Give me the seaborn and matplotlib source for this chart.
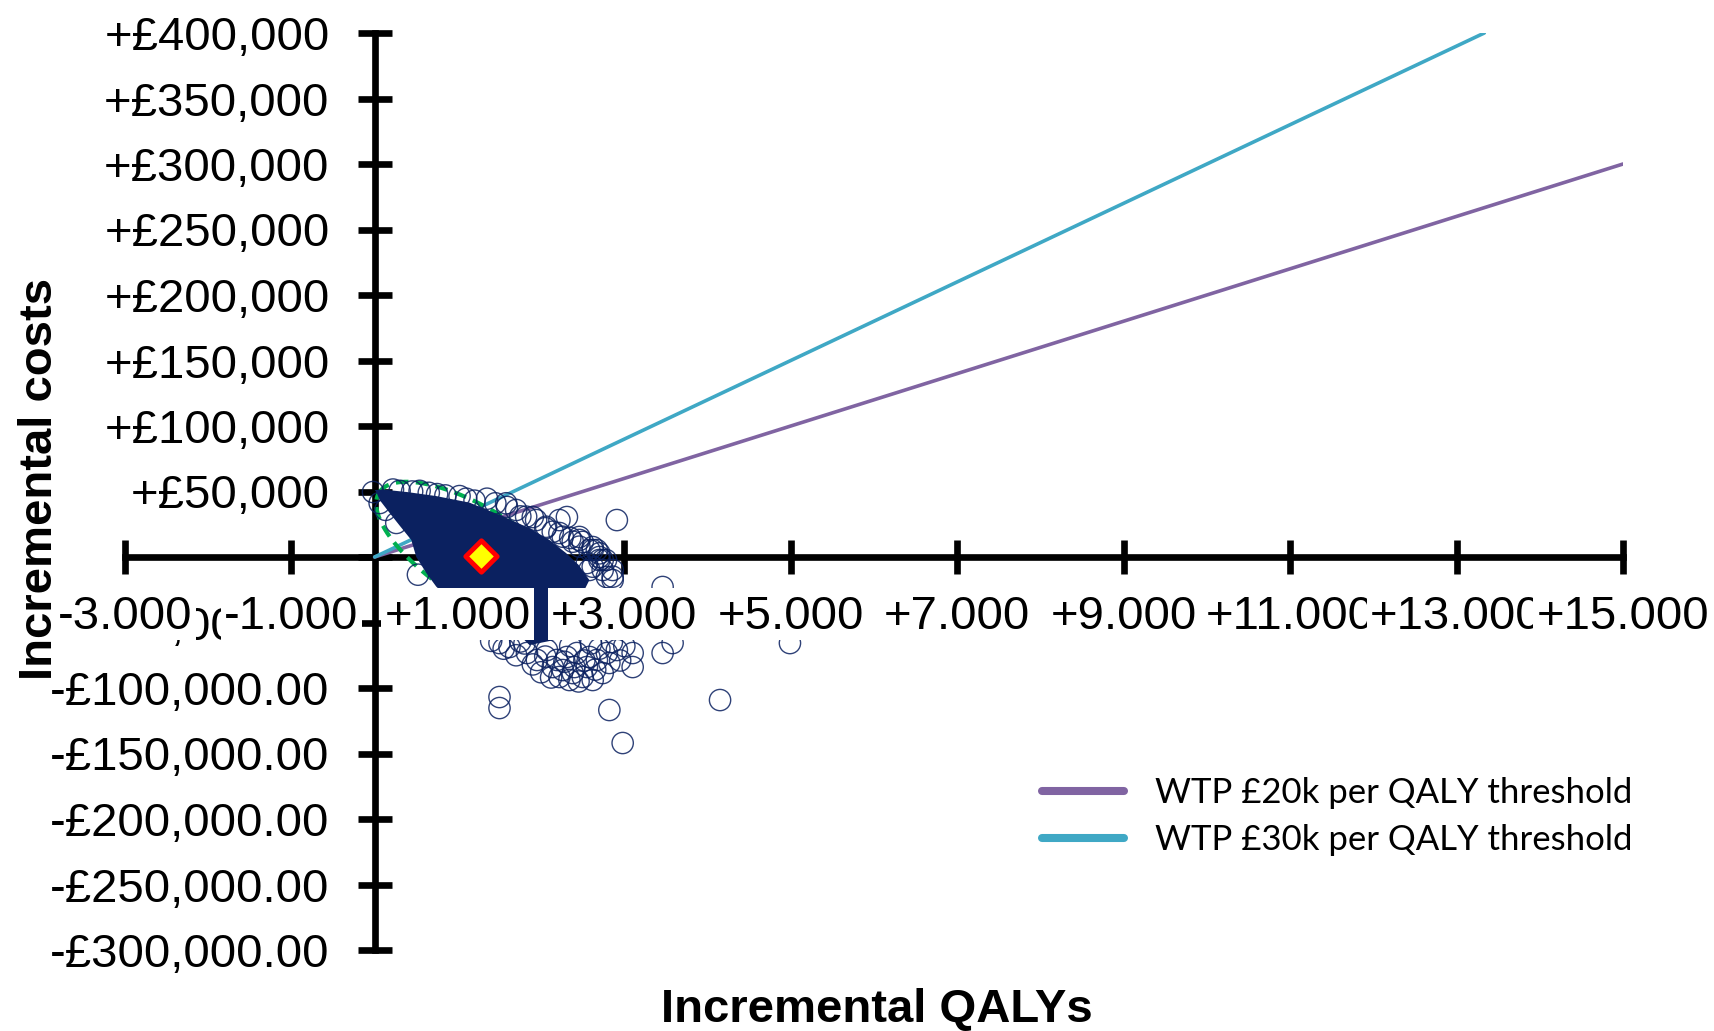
import numpy as np
import matplotlib
matplotlib.use("Agg")
import matplotlib.pyplot as plt
from matplotlib.path import Path
from matplotlib.lines import Line2D
import seaborn as sns

# ---------------- data ----------------
x_ticks = [-3, -1, 1, 3, 5, 7, 9, 11, 13, 15]
y_ticks = list(range(-300000, 400001, 50000))

wtp_thresholds = [20000, 30000]
wtp_labels = ["WTP £20k per QALY threshold", "WTP £30k per QALY threshold"]
wtp_colors = ["#8064A2", "#3FA8C5"]

# mean incremental QALYs / costs
mean_qaly = [1.28]
mean_cost = [800]

# outline of the densely overlapping part of the PSA cloud
core_qalys = [0.00, 0.10, 0.40, 0.74, 1.14, 1.54, 1.86, 2.10, 2.30, 2.45, 2.58,
              2.40, 2.16, 1.86, 1.56, 0.95, 0.74, 0.62, 0.50, 0.44, 0.30, 0.18, 0.06, 0.02]
core_costs = [51100, 51500, 49500, 46500, 41500, 31000, 22000, 13000, 3000, -6000, -17600,
              -40500, -63400, -67200, -48100, -35000, -22600, -12200, 0, 13000, 24000, 33600, 43500, 49600]

# individual PSA iterations around the dense core
psa_qalys = [
    # upper edge
    -0.02, 0.22, 0.30, 0.45, 0.54, 0.65, 0.75, 0.85, 1.02, 1.10, 1.20, 1.35, 1.45,
    1.58, 1.59, 1.70, 1.75, 1.82, 1.90, 1.94, 2.05, 2.06, 2.14, 2.22, 2.26, 2.35,
    2.38, 2.46, 2.46, 2.58, 2.62, 2.70, 2.70, 2.78, 2.62, 2.74, 2.86,
    2.31, 2.46, 2.62, 2.70, 2.55, 2.79, 2.38, 2.86, 2.50, 2.67, 2.74, 2.58, 2.86,
    2.22, 2.91, 3.46,
    # lower-left edge
    0.06, 0.13, 0.26, 0.52,
    # cluster below the axis labels
    1.50, 1.62, 1.83, 1.95, 2.14, 2.26, 2.22, 2.38, 2.50, 2.55, 2.67, 2.74, 2.79,
    2.91, 3.10, 3.10, 3.46, 3.58, 2.43, 2.07, 2.31, 2.58, 2.19, 2.82, 2.62, 2.34,
    1.40, 1.55, 1.70, 1.80, 1.90, 2.00, 2.05, 2.12, 2.28, 2.40, 2.45, 2.52, 2.65,
    2.70, 2.85, 2.95, 3.00, 1.75, 2.35, 2.60,
    # scattered outliers
    1.50, 1.50, 2.82, 2.98, 4.15, 4.99]
psa_costs = [
    49600, 51500, 50500, 50000, 50500, 49000, 48000, 47000, 46500, 44500, 43000, 44500, 41000,
    41000, 38200, 35900, 31000, 30800, 30500, 28200, 22000, 23100, 19300, 18300, 15500, 14500,
    11700, 13000, 7900, 5300, 5300, 2800, -2300, -2300, -7400, -9900, -15000,
    30500, 15300, 7600, 0, -4600, -15300, -15300, -17600, 11500, 5300, -2300, -9900, -9900,
    28200, 28200, -22900,
    41200, 36000, 26000, -13500,
    -65700, -68700, -73300, -78600, -84000, -86300, -91600, -88600, -91600, -84000, -78600, -88600, -73300,
    -71000, -73300, -84000, -73300, -65700, -73300, -71000, -76300, -76300, -78600, -80900, -93900, -93900,
    -64000, -70000, -75000, -66000, -82000, -88000, -76000, -92000, -80000, -84000, -95000, -79000, -86000,
    -70000, -65000, -79000, -68000, -64500, -68000, -66000,
    -106900, -115300, -116800, -142000, -109200, -65700]

# confidence ellipse: centre and two conjugate semi-axes (QALYs, £)
ell_centre = (1.27, 0)
ell_axis_a = (-1.216, 49200)
ell_axis_b = (0.297, 29600)

NAVY = "#0B2160"
GREEN = "#00B050"

# ---------------- style ----------------
sns.set_theme(style="white")
plt.rcParams["font.family"] = ["Liberation Sans", "DejaVu Sans"]

fig = plt.figure(figsize=(17.15, 10.31), dpi=100)
ax = fig.add_axes([125 / 1715, 81 / 1031, 1498 / 1715, 917 / 1031])
ax.set_xlim(-3, 15)
ax.set_ylim(-300000, 400000)
ax.set_axisbelow(True)

for side in ["top", "right"]:
    ax.spines[side].set_visible(False)
for side in ["left", "bottom"]:
    ax.spines[side].set_position(("data", 0))
    ax.spines[side].set_linewidth(4.8)
    ax.spines[side].set_color("black")
    ax.spines[side].set_zorder(0.5)

ax.set_xticks(x_ticks)
ax.tick_params(axis="x", bottom=True, labelbottom=False, direction="inout",
               length=25, width=4.8, color="black")


def cost_label(v):
    if v > 0:
        return f"+£{v:,.0f}"
    if v < 0:
        return f"-£{abs(v):,.2f}"
    return ""


ax.set_yticks(y_ticks)
ax.set_yticklabels([cost_label(v) for v in y_ticks])
ax.tick_params(axis="y", left=True, direction="inout", length=25, width=4.8, pad=20,
               labelsize=34, color="black", labelcolor="black")

# willingness-to-pay threshold lines
xmax, ymax = ax.get_xlim()[1], ax.get_ylim()[1]
for wtp, col in zip(wtp_thresholds, wtp_colors):
    x_end = min(xmax, ymax / wtp)
    sns.lineplot(x=[0, x_end], y=[0, wtp * x_end], color=col, linewidth=2.6,
                 ax=ax, zorder=1, legend=False)

# confidence ellipse (dashed)
t = np.linspace(0, 2 * np.pi, 400)
ell_x = ell_centre[0] + ell_axis_a[0] * np.cos(t) + ell_axis_b[0] * np.sin(t)
ell_y = ell_centre[1] + ell_axis_a[1] * np.cos(t) + ell_axis_b[1] * np.sin(t)
ax.plot(ell_x, ell_y, color=GREEN, linewidth=3, linestyle=(0, (3, 1.8)), zorder=1.5)

# PSA cloud
ax.fill(core_qalys, core_costs, color=NAVY, linewidth=0, zorder=2)
sns.scatterplot(x=psa_qalys, y=psa_costs, marker="o", s=235, color=NAVY,
                facecolor="none", edgecolor=NAVY, linewidth=1.0, alpha=0.85, ax=ax,
                zorder=2.2, legend=False)

# mean point
sns.scatterplot(x=mean_qaly, y=mean_cost, marker="D", s=256, color="#FFFF00",
                facecolor="#FFFF00", edgecolor="#FF0000", linewidth=3.5, ax=ax,
                zorder=4, legend=False)


# x tick labels with white backgrounds drawn over the cloud
def label_box(x0, y0, width, height, mutation_size):
    px = 0.07 * mutation_size
    top = 0.15 * mutation_size
    bot = 0.03 * mutation_size
    verts = [(x0 - px, y0 - bot), (x0 + width + px, y0 - bot),
             (x0 + width + px, y0 + height + top), (x0 - px, y0 + height + top),
             (x0 - px, y0 - bot)]
    return Path(verts, closed=True)


for v in x_ticks:
    ax.annotate(f"{v:+.3f}", xy=(v, 0), xycoords="data", xytext=(0, -27.4),
                textcoords="offset points", ha="center", va="top", fontsize=34,
                color="black", zorder=5, annotation_clip=False,
                bbox=dict(boxstyle=label_box, facecolor="white", edgecolor="none"))

# axis titles
fig.text(877 / 1715, 1 - 1022 / 1031, "Incremental QALYs", ha="center", va="baseline",
         fontsize=34, fontweight="bold", color="black")
fig.text(52.5 / 1715, 1 - 478.5 / 1031, "Incremental costs", rotation=90,
         rotation_mode="anchor", ha="center", va="baseline", fontsize=34,
         fontweight="bold", color="black")

# legend
handles = [Line2D([], [], color=c, linewidth=5.8, solid_capstyle="round") for c in wtp_colors]
fig.legend(handles, wtp_labels, loc="center left",
           bbox_to_anchor=(1042 / 1715, 1 - 816.5 / 1031), bbox_transform=fig.transFigure,
           frameon=False, prop={"family": ["Lato", "DejaVu Sans"], "size": 25},
           labelcolor="black", handlelength=2.35, handletextpad=0.9, labelspacing=0.45,
           borderpad=0, borderaxespad=0)

fig.savefig("out.png", dpi=100)
